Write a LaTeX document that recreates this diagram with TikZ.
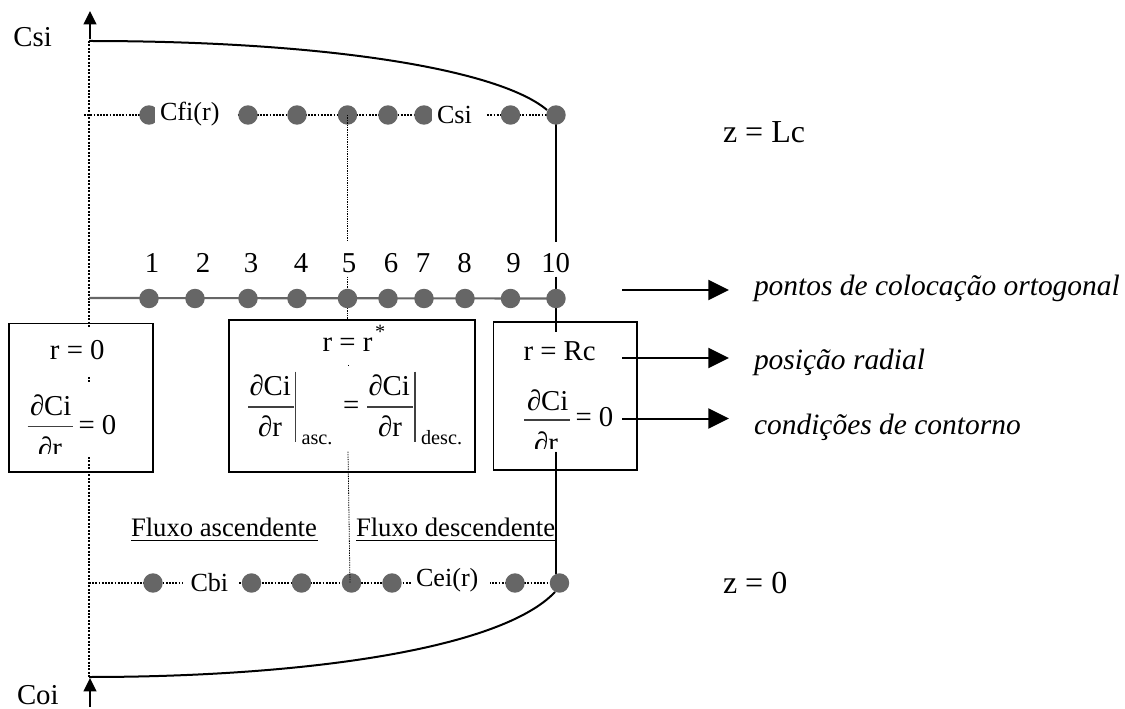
\documentclass[tikz,border=0pt]{standalone}
\usepackage{fontspec}
\setmainfont{Liberation Serif}
\usetikzlibrary{arrows.meta}
\newcommand{\szA}{\fontsize{21.6pt}{26pt}\selectfont}
\newcommand{\szB}{\fontsize{19.6pt}{24pt}\selectfont}
\newcommand{\szC}{\fontsize{15.2pt}{18pt}\selectfont}
\newcommand{\szD}{\fontsize{24pt}{29pt}\selectfont}
\newcommand{\szE}{\fontsize{22.1pt}{27pt}\selectfont}
\tikzset{
  x=0.75pt,y=-0.75pt,
  lab/.style={anchor=base west,inner sep=0pt,outer sep=0pt,font=\szA},
  labB/.style={anchor=base west,inner sep=0pt,outer sep=0pt,font=\szB},
  labC/.style={anchor=base west,inner sep=0pt,outer sep=0pt,font=\szC},
  labD/.style={anchor=base west,inner sep=0pt,outer sep=0pt,font=\szD},
  labI/.style={anchor=base west,inner sep=0pt,outer sep=0pt,font=\itshape\szE},
  num/.style={anchor=base,inner sep=0pt,outer sep=0pt,font=\szA},
  dot/.style={circle,fill=dotgray,draw=none,minimum size=14.6pt,inner sep=0pt,outer sep=0pt},
  axisdot/.style={line width=1.5pt,dash pattern=on 1.5pt off 1.1pt},
  rowdot/.style={line width=1.4pt,dash pattern=on 1.4pt off 1pt},
  thindot/.style={line width=0.6pt,dash pattern=on 1pt off 0.8pt},
  solid line/.style={line width=1.5pt,black},
  box/.style={draw=black,line width=1.4pt,fill=none},
  fracline/.style={line width=0.8pt,black!75},
  arrowline/.style={line width=1.5pt,-{Triangle[length=15.5pt,width=15pt]}},
  axisarrow/.style={line width=1.2pt,-{Triangle[length=10pt,width=9.5pt]}},
}
\definecolor{dotgray}{RGB}{102,102,102}
\begin{document}
\begin{tikzpicture}
\useasboundingbox (0,0) rectangle (1125,709);
\fill[white] (0,0) rectangle (1125,709);

% dotted axis
\coordinate (axT) at (89,41);
\coordinate (axA) at (89,327);
\coordinate (axB) at (89,377);
\coordinate (axC) at (89,382);
\coordinate (axD) at (89,457);
\coordinate (axE) at (89,677);
\draw[axisdot] (axT) -- (axA);
\draw[axisdot] (axB) -- (axC);
\draw[axisdot] (axD) -- (axE);

% axis arrows
\coordinate (upS) at (90,39);
\coordinate (upE) at (90,11);
\draw[axisarrow] (upS) -- (upE);
\coordinate (dnS) at (90,707);
\coordinate (dnE) at (90,678);
\draw[axisarrow] (dnS) -- (dnE);

% row end points
\coordinate (t0) at (84,115);
\coordinate (t10c) at (556,115);
\coordinate (b0) at (89,583);
\coordinate (b10c) at (559.5,583);
\coordinate (m0) at (89,298);
\coordinate (m10c) at (556,298.5);
\draw[rowdot] (t0) -- (t10c);
\draw[rowdot] (b0) -- (b10c);
\draw[line width=1.6pt,black!60] (m0) -- (m10c);

% thin dotted centre line
\coordinate (c1) at (347.5,115);
\coordinate (c2) at (347.5,241.7);
\coordinate (c3) at (347.5,276.7);
\coordinate (c4) at (347.5,321);
\coordinate (c5) at (348,365);
\coordinate (c6) at (348,367);
\coordinate (c7) at (348,451.7);
\coordinate (c8) at (350,583);
\draw[thindot] (c3) -- (c4);
\draw[thindot] (c5) -- (c6);

% solid right line
\coordinate (r1) at (556,115);
\coordinate (r2) at (556,241.7);
\coordinate (r3) at (556,276.7);
\coordinate (r4) at (556,331.7);
\coordinate (r5) at (555.5,451.7);
\coordinate (r6) at (555.5,574);
\draw[solid line] (r1) -- (r2);
\draw[solid line] (r3) -- (r4);
\draw[solid line] (r5) -- (r6);

% profile curves
\coordinate (curT) at (547,110);
\coordinate (curB) at (555,592);
\draw[line width=1.5pt] (axT) .. controls (330,41) and (500,70) .. (curT);
\draw[line width=1.5pt] (axE) .. controls (300,677) and (500,650) .. (curB);

% dots
\foreach \n/\x in {1/149,3/248,4/297,5/347.5,6/388,7/424,9/510.5,10/556}
  \node[dot] (t\n) at (\x,115) {};
\foreach \n/\x in {1/149,2/195,3/248,4/297,5/347.5,6/388,7/424,8/465,9/510.5,10/556}
  \node[dot] (m\n) at (\x,298.5) {};
\foreach \n/\x in {1/153,3/251.5,4/301.5,5/351.5,6/392,9/515,10/559.5}
  \node[dot] (b\n) at (\x,583) {};

% thin dotted lines lying over the dots
\draw[thindot] (c1) -- (c2);
\draw[thindot] (c7) -- (c8);

% label masks on the rows, with labels
\fill[white] (155,105) rectangle (237,128);
\fill[white] (432,105) rectangle (487,128);
\fill[white] (183,572) rectangle (238,596);
\fill[white] (412,572) rectangle (490,596);
\node[labB] (cfi) at (160,121) {Cfi(r)};
\node[labB] (csib) at (437,124) {Csi};
\node[labB] (cbi) at (190.5,591) {Cbi};
\node[labB] (cei) at (416,586) {Cei(r)};

% end labels
\node[lab] (csi) at (13.5,47) {Csi};
\node[lab] (coi) at (17,704) {Coi};
\node[labD] (zl) at (723,143) {z = Lc};
\node[labD] (z0) at (723,593) {z = 0};

% numbers
\foreach \n/\x in {1/152,2/203,3/251,4/301,5/349,6/391,7/423,8/464.6,9/513.6,10/555.7}
  \node[num] (n\n) at (\x,273) {\n};

% boxes
\draw[box] (9,323.5) rectangle (152.7,472.3);
\draw[box] (229,319.7) rectangle (475,472.3);
\draw[box] (493.5,322.3) rectangle (637,470);

% left box
\node[lab] (lr) at (50,359) {r = 0};
\node[lab] (lci) at (30,415.7) {∂Ci};
\coordinate (lf1) at (27.5,426.7);
\coordinate (lf2) at (72.7,426.7);
\draw[fracline] (lf1) -- (lf2);
\node[num] (ldr) at (50,457) {∂r};
\node[lab] (leq) at (78.5,434) {= 0};
\fill[white] (30,453.5) rectangle (84,471);

% middle box
\node[lab] (mr) at (322.6,351.7) {r = r};
\node[labC] (mst) at (375,339) {*};
\node[lab] (mci1) at (249.5,396) {∂Ci};
\coordinate (mf1) at (248,407);
\coordinate (mf2) at (293.5,407);
\draw[fracline] (mf1) -- (mf2);
\node[num] (mdr1) at (270,436.7) {∂r};
\coordinate (mb1) at (295.4,371.7);
\coordinate (mb2) at (295.4,442);
\draw[fracline] (mb1) -- (mb2);
\node[labC] (masc) at (301.6,444) {asc.};
\node[lab] (meq) at (343,414) {=};
\node[lab] (mci2) at (368.5,396) {∂Ci};
\coordinate (mf3) at (367.4,407);
\coordinate (mf4) at (412.5,407);
\draw[fracline] (mf3) -- (mf4);
\node[num] (mdr2) at (390,436.7) {∂r};
\coordinate (mb3) at (415,371.7);
\coordinate (mb4) at (415,442);
\draw[fracline] (mb3) -- (mb4);
\node[labC] (mdesc) at (421,444) {desc.};

% right box
\node[lab] (rr) at (523.5,361) {r = Rc};
\node[lab] (rci) at (527,411) {∂Ci};
\coordinate (rf1) at (524.4,420);
\coordinate (rf2) at (569.7,420);
\draw[fracline] (rf1) -- (rf2);
\node[num] (rdr) at (546,452) {∂r};
\node[lab] (req) at (575.5,426.7) {= 0};
\fill[white] (530,448.5) rectangle (554.5,468);

% flow labels
\node[labB,font=\fontsize{20pt}{24pt}\selectfont] (fa) at (131,536.7) {Fluxo ascendente};
\node[labB,font=\fontsize{20pt}{24pt}\selectfont] (fd) at (356,536.7) {Fluxo descendente};
\coordinate (fa1) at (131,540.8);
\coordinate (fa2) at (317.6,540.8);
\coordinate (fd1) at (356,540.8);
\coordinate (fd2) at (555,540.8);
\draw[line width=1pt] (fa1) -- (fa2);
\draw[line width=1pt] (fd1) -- (fd2);

% right arrows and italic labels
\coordinate (a1s) at (622,290);
\coordinate (a1e) at (729,290);
\coordinate (a2s) at (622,358);
\coordinate (a2e) at (729,358);
\coordinate (a3s) at (622,418.5);
\coordinate (a3e) at (729,418.5);
\draw[arrowline] (a1s) -- (a1e);
\draw[arrowline] (a2s) -- (a2e);
\draw[arrowline] (a3s) -- (a3e);
\node[labI] (t1) at (754,296) {pontos de colocação ortogonal};
\node[labI] (t2) at (754,370) {posição radial};
\node[labI] (t3) at (754,434) {condições de contorno};
\end{tikzpicture}
\end{document}
